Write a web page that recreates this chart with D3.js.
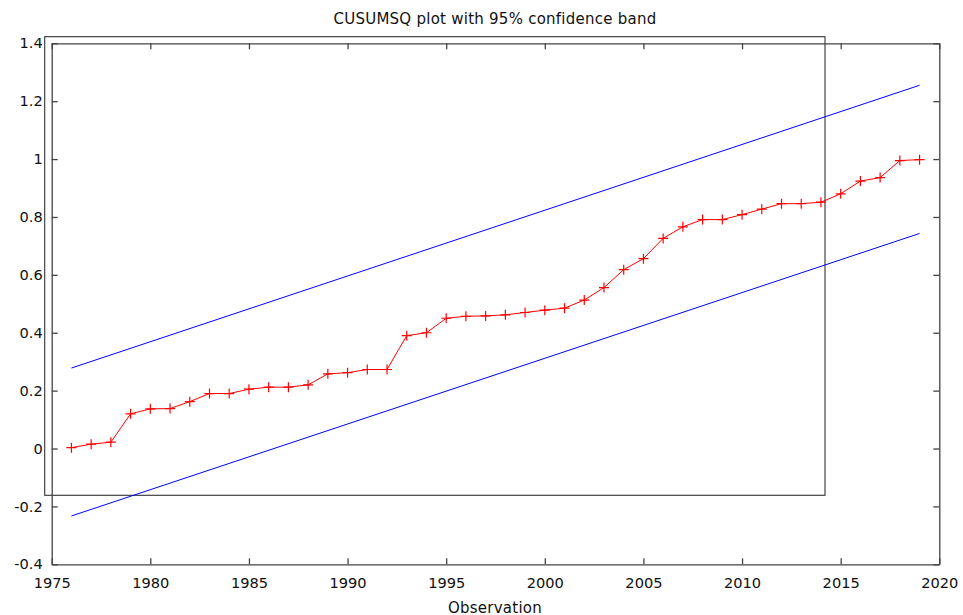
<!DOCTYPE html>
<html>
<head>
<meta charset="utf-8">
<script src="https://cdn.jsdelivr.net/npm/d3@7"></script>
<style>
  html, body { margin: 0; padding: 0; background: #fff; }
  svg { display: block; font-family: "DejaVu Sans", Verdana, sans-serif; }
</style>
</head>
<body>
<svg id="chart" width="963" height="615"></svg>
<script>
// ---- data ----
const titleText = "CUSUMSQ plot with 95% confidence band";
const xLabel = "Observation";
const years = [1976,1977,1978,1979,1980,1981,1982,1983,1984,1985,1986,1987,1988,1989,1990,
  1991,1992,1993,1994,1995,1996,1997,1998,1999,2000,2001,2002,2003,2004,2005,2006,2007,
  2008,2009,2010,2011,2012,2013,2014,2015,2016,2017,2018,2019];
const cusumsq = [0.003,0.015,0.022,0.120,0.137,0.138,0.162,0.190,0.190,0.205,0.212,0.212,0.220,
  0.258,0.262,0.273,0.273,0.390,0.400,0.450,0.457,0.458,0.462,0.470,0.478,0.485,0.513,0.556,
  0.618,0.656,0.726,0.766,0.791,0.791,0.808,0.827,0.846,0.846,0.851,0.880,0.924,0.936,0.995,0.998];
const bandYears = [1976, 2019];
const upperBand = [0.278, 1.255];
const lowerBand = [-0.233, 0.743];
const xTicks = [1975,1980,1985,1990,1995,2000,2005,2010,2015,2020];
const yTicks = [-0.4,-0.2,0,0.2,0.4,0.6,0.8,1,1.2,1.4];

// ---- layout ----
const svg = d3.select("#chart");
const L = 51.7, R = 939.3, T = 43.3, B = 564.3;
const x = d3.scaleLinear().domain([1975, 2020]).range([L, R]);
const y = d3.scaleLinear().domain([-0.4, 1.4]).range([B, T]);
const frameColor = "#444";
const fmtY = d => String(+d.toFixed(1));
const fs = "14.6px";

// stray box (as in reference)
svg.append("rect")
  .attr("x", 44.7).attr("y", 36.7)
  .attr("width", 825 - 44.7).attr("height", 495.3 - 36.7)
  .attr("fill", "none").attr("stroke", "#333").attr("stroke-width", 1.1);

function styleAxis(g, labels) {
  g.selectAll(".domain").attr("stroke", frameColor).attr("stroke-width", 1.3);
  g.selectAll(".tick line").attr("stroke", frameColor).attr("stroke-width", 1.3);
  g.selectAll(".tick text").attr("fill", "#111").style("font-size", fs)
    .attr("font-family", "DejaVu Sans, Verdana, sans-serif");
  if (!labels) g.selectAll(".tick text").remove();
}

svg.append("g").attr("transform", `translate(0,${B})`)
  .call(d3.axisBottom(x).tickValues(xTicks).tickFormat(d3.format("d"))
    .tickSizeInner(-6).tickSizeOuter(0).tickPadding(13.5))
  .call(g => styleAxis(g, true));
svg.append("g").attr("transform", `translate(0,${T})`)
  .call(d3.axisTop(x).tickValues(xTicks).tickSizeInner(-6).tickSizeOuter(0))
  .call(g => styleAxis(g, false));
svg.append("g").attr("transform", `translate(${L},0)`)
  .call(d3.axisLeft(y).tickValues(yTicks).tickFormat(fmtY)
    .tickSizeInner(-6).tickSizeOuter(0).tickPadding(9))
  .call(g => styleAxis(g, true));
svg.append("g").attr("transform", `translate(${R},0)`)
  .call(d3.axisRight(y).tickValues(yTicks).tickSizeInner(-6).tickSizeOuter(0))
  .call(g => styleAxis(g, false));

// bands
const line = d3.line().x(d => x(d[0])).y(d => y(d[1]));
[upperBand, lowerBand].forEach(b => {
  svg.append("path")
    .attr("d", line(bandYears.map((yr, i) => [yr, b[i]])))
    .attr("fill", "none").attr("stroke", "#0000ff").attr("stroke-width", 1);
});

// cusumsq series
const pts = years.map((yr, i) => [yr, cusumsq[i]]);
svg.append("path").attr("d", line(pts))
  .attr("fill", "none").attr("stroke", "#ff0000").attr("stroke-width", 1);
const s = 5;
svg.append("g").selectAll("path").data(pts).join("path")
  .attr("d", d => {
    const cx = x(d[0]), cy = y(d[1]);
    return `M${cx - s},${cy}H${cx + s}M${cx},${cy - s}V${cy + s}`;
  })
  .attr("stroke", "#ff0000").attr("stroke-width", 1.2).attr("fill", "none");

// title and label
svg.append("text").attr("x", 495).attr("y", 24.3).attr("text-anchor", "middle")
  .style("font-size", "15px").style("letter-spacing", "0.25px")
  .attr("fill", "#111").text(titleText);
svg.append("text").attr("x", 495).attr("y", 612.5).attr("text-anchor", "middle")
  .style("font-size", "15px").style("letter-spacing", "0.25px")
  .attr("fill", "#111").text(xLabel);
</script>
</body>
</html>
